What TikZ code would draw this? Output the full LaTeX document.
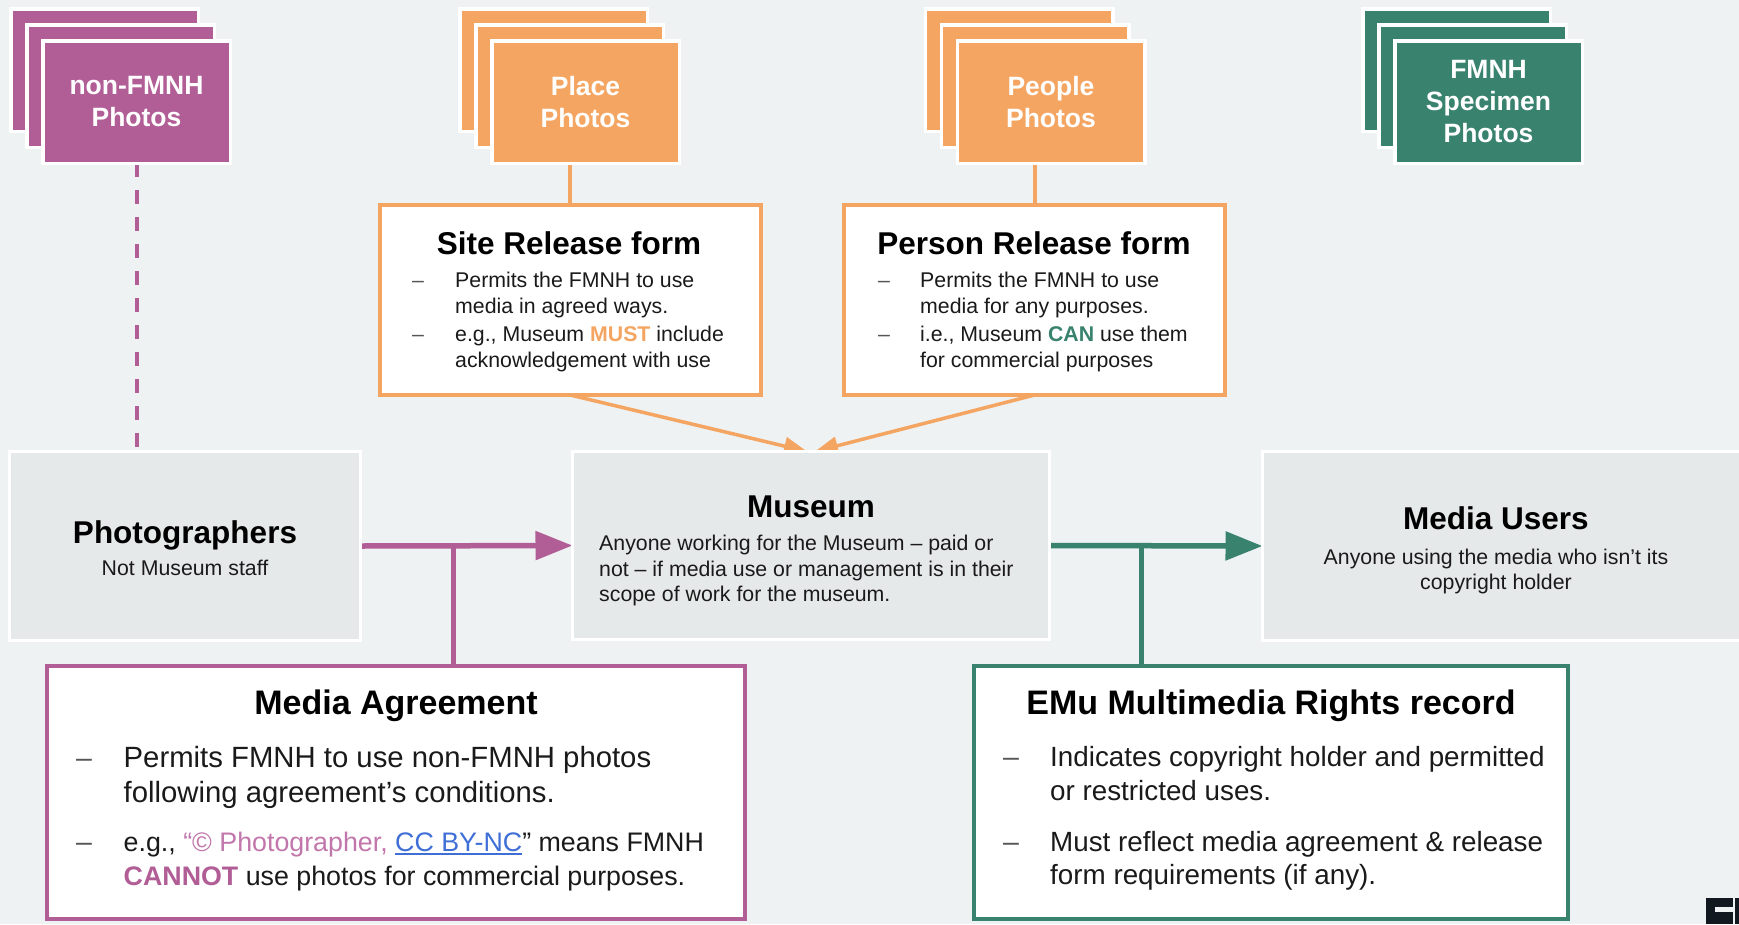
\documentclass[tikz,border=0pt]{standalone}
\usepackage{fontspec}
\setmainfont{Liberation Sans}
\usetikzlibrary{arrows.meta}
\definecolor{bgc}{HTML}{EEF2F3}
\definecolor{mag}{HTML}{B25E96}
\definecolor{magl}{HTML}{C277AC}
\definecolor{org}{HTML}{F4A562}
\definecolor{grn}{HTML}{38826E}
\definecolor{boxg}{HTML}{E6E9E9}
\definecolor{lnk}{HTML}{3F6FD6}
\definecolor{txt}{HTML}{1A1A1A}
\definecolor{dashc}{HTML}{555555}
\definecolor{logo}{HTML}{111820}
\newcommand\myul[1]{{\setbox0\hbox{#1}\rlap{\color{lnk}\rule[-4pt]{\wd0}{2.5pt}}\box0}}
\pgfdeclarelayer{bg}\pgfdeclarelayer{lines}\pgfsetlayers{bg,lines,main}
\begin{document}
\begin{tikzpicture}[x=1pt,y=-1pt,
  card/.style={draw=white, line width=3.5pt, minimum width=187.5pt, minimum height=122.5pt, inner sep=0pt, outer sep=0pt},
  cardtxt/.style={text=white, font=\bfseries\fontsize{26.5}{32}\selectfont, align=center},
  gbox/.style={draw=white, line width=3pt, fill=boxg, inner sep=0pt, outer sep=0pt},
  fbox/.style={line width=4pt, fill=white, inner sep=0pt, outer sep=0pt},
  ttl/.style={font=\bfseries\fontsize{31.5}{36}\selectfont, text=black, inner sep=0pt, anchor=base},
  ttlL/.style={font=\bfseries\fontsize{34}{40}\selectfont, text=black, inner sep=0pt, anchor=base},
  small/.style={font=\fontsize{21.3}{26}\selectfont, text=txt, inner sep=0pt},
  big/.style={font=\fontsize{29.3}{35}\selectfont, text=txt, inner sep=0pt},
  bigb/.style={font=\fontsize{26.8}{33}\selectfont, text=txt, inner sep=0pt},
  bigc/.style={font=\fontsize{27.8}{34}\selectfont, text=txt, inner sep=0pt},
  dshS/.style={font=\fontsize{21.3}{26}\selectfont, text=dashc, inner sep=0pt, anchor=base},
  dshB/.style={font=\fontsize{28.5}{35}\selectfont, text=dashc, inner sep=0pt, anchor=base},
  lnw/.style={anchor=base west},
  conn/.style={line width=4pt},
]
\path[use as bounding box, clip] (0,0) rectangle (1739,924);
\begin{pgfonlayer}{bg}
\fill[bgc] (0,0) rectangle (1739,924);
\end{pgfonlayer}

% photo stacks
\node[card, fill=mag] (nfB) at (104.5,70) {};
\node[card, fill=mag] (nfM) at (120.5,86) {};
\node[card, fill=mag, cardtxt] (nfF) at (136.5,102) {non-FMNH\\Photos};

\node[card, fill=org] (plB) at (553.5,70) {};
\node[card, fill=org] (plM) at (569.5,86) {};
\node[card, fill=org, cardtxt] (plF) at (585.5,102) {Place\\Photos};

\node[card, fill=org] (peB) at (1019,70) {};
\node[card, fill=org] (peM) at (1035,86) {};
\node[card, fill=org, cardtxt] (peF) at (1051,102) {People\\Photos};

\node[card, fill=grn] (fmB) at (1456.5,70) {};
\node[card, fill=grn] (fmM) at (1472.5,86) {};
\node[card, fill=grn, cardtxt] (fmF) at (1488.5,102) {FMNH\\Specimen\\Photos};

% release forms
\node[fbox, draw=org, minimum width=381.5pt, minimum height=190pt] (site) at (570.25,300) {};
\node[fbox, draw=org, minimum width=381pt, minimum height=190pt] (person) at (1034.5,300) {};

% gray boxes
\node[gbox, minimum width=351pt, minimum height=189pt] (phot) at (185,546) {};
\node[gbox, minimum width=477pt, minimum height=188pt] (mus) at (811,545.5) {};
\node[gbox, minimum width=496pt, minimum height=189pt] (users) at (1510.5,546) {};

% bottom boxes
\node[fbox, draw=mag, minimum width=698pt, minimum height=253pt] (ma) at (396,792.5) {};
\node[fbox, draw=grn, minimum width=594pt, minimum height=253pt] (emu) at (1271,792.5) {};

% connectors
\begin{pgfonlayer}{lines}
\draw[mag, line width=4pt, dash pattern=on 14pt off 13pt] (nfF.south) -- (nfF.south |- phot.north);
\draw[org, conn] (plM.south) -- (plM.south |- site.north);
\draw[org, conn] (peM.south) -- (peM.south |- person.north);
\draw[org, line width=3.5pt, -{Triangle[length=23pt,width=18pt]}] (site.south) -- ([xshift=-4pt]mus.north);
\draw[org, line width=3.5pt, -{Triangle[length=23pt,width=18pt]}] (person.south) -- ([xshift=4pt]mus.north);
\draw[mag, line width=5.5pt, -{Triangle[length=37pt,width=28pt]}] (phot.east) -- (mus.west);
\coordinate (mj) at (453,546);
\draw[mag, line width=5pt] (mj) -- (mj |- ma.north);
\draw[grn, line width=5.5pt, -{Triangle[length=37pt,width=28pt]}] (mus.east) -- (users.west);
\coordinate (gj) at (1141,546);
\draw[grn, line width=5pt] (gj) -- (gj |- emu.north);
\end{pgfonlayer}

% gray box texts
\node[ttl] (photT) at (185,543) {Photographers};
\node[small, anchor=base] (photS) at (185,575.5) {Not Museum staff};

\node[ttl] (musT) at (811,517) {Museum};
\node[small, lnw] (musA) at (599,550.5) {Anyone working for the Museum – paid or};
\node[small, lnw] (musB) at (599,576.5) {not – if media use or management is in their};
\node[small, lnw] (musC) at (599,601.5) {scope of work for the museum.};

\node[ttl] (usrT) at (1496,529) {Media Users};
\node[small, anchor=base] (usrA) at (1496,564.5) {Anyone using the media who isn’t its};
\node[small, anchor=base] (usrB) at (1496,589.5) {copyright holder};

% site release
\node[ttl] (siteT) at (569,254) {Site Release form};
\node[dshS] (siteD1) at (418,287.5) {–};
\node[dshS] (siteD2) at (418,341.5) {–};
\node[small, lnw] (siteA) at (455,287.5) {Permits the FMNH to use};
\node[small, lnw] (siteB) at (455,313) {media in agreed ways.};
\node[small, lnw] (siteC) at (455,341.5) {e.g., Museum {\bfseries\color{org}MUST} include};
\node[small, lnw] (siteE) at (455,367) {acknowledgement with use};

% person release
\node[ttl] (perT) at (1034,254) {Person Release form};
\node[dshS] (perD1) at (884,287.5) {–};
\node[dshS] (perD2) at (884,341.5) {–};
\node[small, lnw] (perA) at (920,287.5) {Permits the FMNH to use};
\node[small, lnw] (perB) at (920,313) {media for any purposes.};
\node[small, lnw] (perC) at (920,341.5) {i.e., Museum {\bfseries\color{grn}CAN} use them};
\node[small, lnw] (perE) at (920,367) {for commercial purposes};

% media agreement
\node[ttlL] (maT) at (396,714) {Media Agreement};
\node[dshB] (maD1) at (84,767) {–};
\node[dshB] (maD2) at (84,851) {–};
\node[big, lnw] (maA) at (123.5,767) {Permits FMNH to use non-FMNH photos};
\node[big, lnw] (maB) at (123.5,802) {following agreement’s conditions.};
\node[bigb, lnw] (maC) at (123.5,851) {e.g., {\color{magl}“© Photographer, }{\color{lnk}\myul{CC BY-NC}}” means FMNH};
\node[bigb, lnw] (maE) at (123.5,885) {{\bfseries\color{mag}CANNOT} use photos for commercial purposes.};

% emu
\node[ttlL] (emuT) at (1271,714) {EMu Multimedia Rights record};
\node[dshB] (emuD1) at (1011,766) {–};
\node[dshB] (emuD2) at (1011,851) {–};
\node[bigc, lnw] (emuA) at (1050,766) {Indicates copyright holder and permitted};
\node[bigc, lnw] (emuB) at (1050,800) {or restricted uses.};
\node[bigc, lnw] (emuC) at (1050,851) {Must reflect media agreement \& release};
\node[bigc, lnw] (emuE) at (1050,884) {form requirements (if any).};

% logo fragment
\fill[logo] (1706,898) rectangle (1733,907);
\fill[logo] (1706,898) rectangle (1715,924);
\fill[logo] (1715,912) rectangle (1733,924);
\fill[logo] (1735,898) rectangle (1739,924);
\end{tikzpicture}
\end{document}
